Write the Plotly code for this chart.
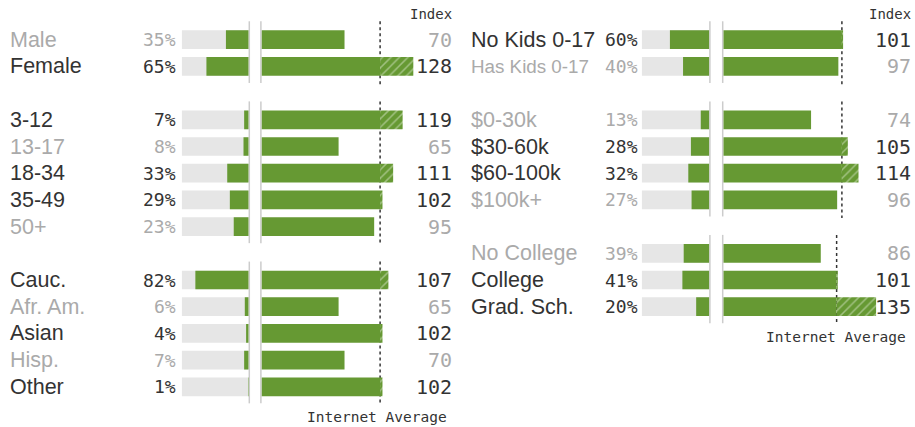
import plotly.graph_objects as go

W, H = 915, 427

# ---------------- data ----------------
left_labels = ["Male", "Female", "3-12", "13-17", "18-34", "35-49", "50+",
               "Cauc.", "Afr. Am.", "Asian", "Hisp.", "Other"]
left_share = [35, 65, 7, 8, 33, 29, 23, 82, 6, 4, 7, 1]
left_index = [70, 128, 119, 65, 111, 102, 95, 107, 65, 102, 70, 102]
left_groups = [2, 5, 5]

right_labels = ["No Kids 0-17", "Has Kids 0-17", "$0-30k", "$30-60k", "$60-100k",
                "$100k+", "No College", "College", "Grad. Sch."]
right_share = [60, 40, 13, 28, 32, 27, 39, 41, 20]
right_index = [101, 97, 74, 105, 114, 96, 86, 101, 135]
right_groups = [2, 4, 3]

AVERAGE = 100          # internet average index
IDX_MIN_MAX = 129      # smallest upper bound of an index axis
SHARE_MAX = 103        # width of the grey share background, in %

# ---------------- style ----------------
GREEN = "#669933"
GREY_BAR = "#e6e6e6"
DARK = "#333333"
LIGHT = "#aaaaaa"
SEP = "#cccccc"
SANS = "Liberation Sans, Arial, sans-serif"
MONO = "DejaVu Sans Mono, monospace"
LABEL_SIZE = 21.5
LABEL_SIZE_FIT = {"Has Kids 0-17": 18.8}   # long label shrunk to fit its column

ROW0, PITCH = 39.7, 26.7
BAR_W = 0.7

panels = [
    dict(labels=left_labels, share=left_share, index=left_index, groups=left_groups,
         label_x=8, pct_right=178, share_dom=(181.7, 248.7), idx_dom=(261.5, 414.5),
         idx_right=454, avg_right=449),
    dict(labels=right_labels, share=right_share, index=right_index, groups=right_groups,
         label_x=469, pct_right=640, share_dom=(641.7, 709.3), idx_dom=(723.3, 876.3),
         idx_right=913, avg_right=908),
]

fig = go.Figure()
layout = dict(
    width=W, height=H, autosize=False,
    margin=dict(l=0, r=0, t=0, b=0),
    paper_bgcolor="white", plot_bgcolor="rgba(0,0,0,0)",
    barmode="overlay", showlegend=False,
    yaxis=dict(range=[(H - ROW0) / PITCH, -ROW0 / PITCH], domain=[0, 1],
               visible=False, fixedrange=True),
)
shapes, annotations = [], []

axis_n = 0


def new_axis(dom, rng, overlay=None):
    global axis_n
    axis_n += 1
    key = "xaxis" if axis_n == 1 else f"xaxis{axis_n}"
    ax = dict(domain=[dom[0] / W, dom[1] / W], range=rng, visible=False,
              fixedrange=True, anchor="y")
    if overlay:
        ax["overlaying"] = overlay
    layout[key] = ax
    return "x" if axis_n == 1 else f"x{axis_n}"


for p in panels:
    share_ax = new_axis(p["share_dom"], [SHARE_MAX, 0])
    first_idx_ax = None
    start, row = 0, 0
    for gi, gsize in enumerate(p["groups"]):
        labs = p["labels"][start:start + gsize]
        shs = p["share"][start:start + gsize]
        ids = p["index"][start:start + gsize]
        rows = list(range(row, row + gsize))
        rng = [0, max(IDX_MIN_MAX, max(ids))]
        idx_ax = new_axis(p["idx_dom"], rng,
                          overlay=None if first_idx_ax is None else first_idx_ax)
        if first_idx_ax is None:
            first_idx_ax = idx_ax

        # share bars
        fig.add_trace(go.Bar(orientation="h", y=rows, x=[SHARE_MAX] * gsize,
                             xaxis=share_ax, yaxis="y", width=BAR_W,
                             marker=dict(color=GREY_BAR, line=dict(width=0)),
                             hoverinfo="skip"))
        fig.add_trace(go.Bar(orientation="h", y=rows, x=shs,
                             xaxis=share_ax, yaxis="y", width=BAR_W,
                             marker=dict(color=GREEN, line=dict(width=0)),
                             hoverinfo="skip"))
        # index bars
        fig.add_trace(go.Bar(orientation="h", y=rows, x=[min(v, AVERAGE) for v in ids],
                             xaxis=idx_ax, yaxis="y", width=BAR_W,
                             marker=dict(color=GREEN, line=dict(width=0)),
                             hoverinfo="skip"))
        over = [(r, v - AVERAGE) for r, v in zip(rows, ids) if v > AVERAGE]
        if over:
            fig.add_trace(go.Bar(orientation="h", y=[o[0] for o in over],
                                 x=[o[1] for o in over], base=AVERAGE,
                                 xaxis=idx_ax, yaxis="y", width=BAR_W,
                                 marker=dict(color=GREEN, line=dict(width=0),
                                             pattern=dict(shape="/", fgcolor="#dce9cf",
                                                          size=6, solidity=0.25,
                                                          fillmode="overlay")),
                                 hoverinfo="skip"))

        top, bot = rows[0] - 0.69, rows[-1] + 0.62
        for xp in (p["share_dom"][1] + 0.6, p["idx_dom"][0] - 0.6):
            shapes.append(dict(type="line", xref="paper", yref="y",
                               x0=xp / W, x1=xp / W, y0=top, y1=bot,
                               line=dict(color=SEP, width=1.5), layer="below"))
        shapes.append(dict(type="line", xref=idx_ax, yref="y",
                           x0=AVERAGE, x1=AVERAGE, y0=rows[0] - 0.69, y1=rows[-1] + 0.68,
                           line=dict(color=DARK, width=1.5, dash="dot"), layer="below"))

        for lab, s, v, r in zip(labs, shs, ids, rows):
            col = DARK if v >= AVERAGE else LIGHT
            annotations.append(dict(x=p["label_x"] / W, y=r, xref="paper", yref="y",
                                    text=lab, showarrow=False, xanchor="left",
                                    yanchor="middle",
                                    font=dict(family=SANS,
                                              size=LABEL_SIZE_FIT.get(lab, LABEL_SIZE),
                                              color=col)))
            annotations.append(dict(x=p["pct_right"] / W, y=r, xref="paper", yref="y",
                                    text=f"{s}%", showarrow=False, xanchor="right",
                                    yanchor="middle",
                                    font=dict(family=MONO, size=18, color=col)))
            annotations.append(dict(x=p["idx_right"] / W, y=r, xref="paper", yref="y",
                                    text=str(v), showarrow=False, xanchor="right",
                                    yanchor="middle",
                                    font=dict(family=MONO, size=20, color=col)))
        start += gsize
        row += gsize + 1
    last_row = row - 2
    annotations.append(dict(x=p["idx_right"] / W, y=-0.98, xref="paper", yref="y",
                            text="Index", showarrow=False, xanchor="right",
                            yanchor="middle", font=dict(family=MONO, size=14, color=DARK)))
    annotations.append(dict(x=p["avg_right"] / W, y=last_row + 1.12, xref="paper", yref="y",
                            text="Internet Average", showarrow=False, xanchor="right",
                            yanchor="middle", font=dict(family=MONO, size=14.5, color=DARK)))

layout["shapes"] = shapes
layout["annotations"] = annotations
fig.update_layout(**layout)
fig.write_html("out.html", config={"displayModeBar": False, "staticPlot": True},
               post_script="document.body.style.margin='0px';document.body.style.padding='0px';")
